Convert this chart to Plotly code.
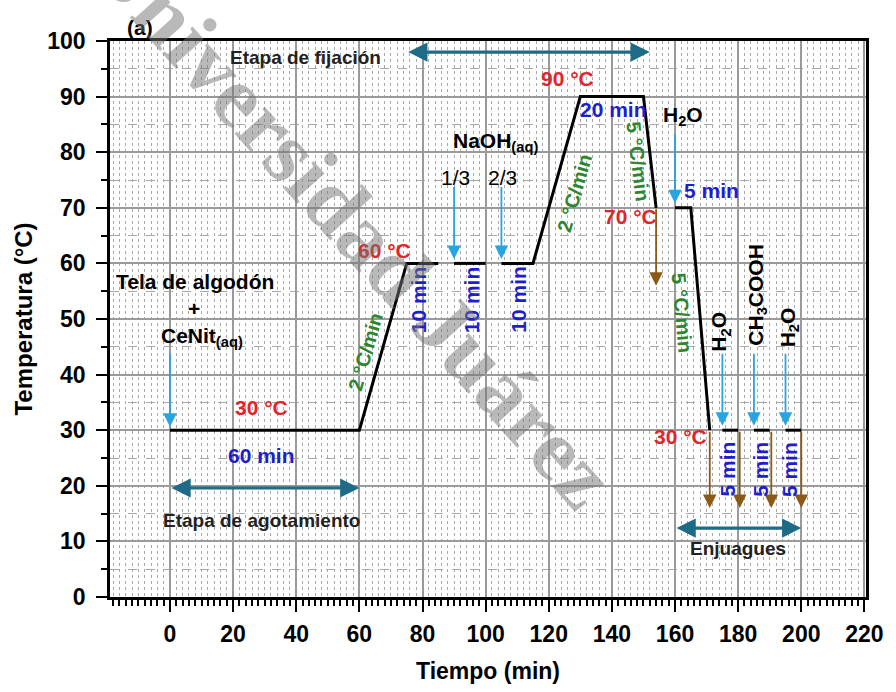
import plotly.graph_objects as go

# Temperature profile of the dyeing process (time in min, temperature in °C)
profile_t = [0, 60, 75, 85, None, 90, 100, None, 105, 115, 130, 150, 154, None,
             160, 165, 171, None, 175, 180, None, 185, 190, None, 195, 200]
profile_T = [30, 30, 60, 60, None, 60, 60, None, 60, 60, 90, 90, 70, None,
             70, 70, 30, None, 30, 30, None, 30, 30, None, 30, 30]

# Reagent additions (blue arrows): time, start temperature, end temperature
add_t = [0, 90, 105, 160, 175, 185, 195]
add_from = [44, 74, 74, 83.5, 44, 44, 44]
add_to = [30.6, 60.8, 60.8, 70.8, 30.8, 30.8, 30.8]

# Bath drained (brown arrows)
drain_t = [154, 171, 180.5, 190.5, 200]
drain_from = [70, 30, 30, 30, 30]
drain_to = [56, 16, 16, 16, 16]

# Process stages (double arrows): start, end, level
stage_start = [75, 0, 160]
stage_end = [152, 60, 200]
stage_level = [98, 19.6, 12.4]

x_ticks = list(range(0, 221, 20))
y_ticks = list(range(0, 101, 10))

FONT = "Liberation Sans, Arial, sans-serif"
RED = "#e0262b"
BLUE = "#1e1ecf"
GREEN = "#2e862e"
LIGHTBLUE = "#27a4e2"
BROWN = "#8c5a17"
TEAL = "#1d6b87"

fig = go.Figure()
fig.add_trace(go.Scatter(x=profile_t, y=profile_T, mode="lines",
                         line=dict(color="black", width=3),
                         connectgaps=False, hoverinfo="skip", showlegend=False))

ann = []

for t, a, b in zip(add_t, add_from, add_to):
    ann.append(dict(x=t, y=b, ax=t, ay=a, xref="x", yref="y", axref="x", ayref="y",
                    text="", showarrow=True, arrowhead=2, arrowsize=1.5,
                    arrowwidth=1.8, arrowcolor=LIGHTBLUE))
for t, a, b in zip(drain_t, drain_from, drain_to):
    ann.append(dict(x=t, y=b, ax=t, ay=a, xref="x", yref="y", axref="x", ayref="y",
                    text="", showarrow=True, arrowhead=2, arrowsize=1.5,
                    arrowwidth=1.8, arrowcolor=BROWN))
for s, e, lv in zip(stage_start, stage_end, stage_level):
    ann.append(dict(x=e, y=lv, ax=s, ay=lv, xref="x", yref="y", axref="x", ayref="y",
                    text="", showarrow=True, arrowhead=2, startarrowhead=2,
                    arrowside="end+start", arrowsize=1.2, startarrowsize=1.2,
                    arrowwidth=3.2, arrowcolor=TEAL))


def label(x, y, text, color="black", size=21, angle=0, bold=True):
    ann.append(dict(x=x, y=y, xref="x", yref="y", text=text, showarrow=False,
                    textangle=angle, xanchor="center", yanchor="middle",
                    font=dict(family=FONT, size=size, color=color,
                              weight="bold" if bold else "normal")))


# Stage names
label(42.9, 97.0, "Etapa de fijación", "#222222", 19)
label(29.0, 13.8, "Etapa de agotamiento", "#222222", 19)
label(179.8, 8.8, "Enjuagues", "#222222", 19)

# Reagents
label(8.0, 56.7, "Tela de algodón")
label(7.7, 51.9, "+")
label(10.0, 46.7, "CeNit<sub>(aq)</sub>")
label(103.0, 81.9, "NaOH<sub>(aq)</sub>")
label(90.3, 75.4, "1/3", bold=False)
label(105.3, 75.4, "2/3", bold=False)
label(162.6, 86.5, "H<sub>2</sub>O")
label(174.4, 47.8, "H<sub>2</sub>O", angle=-90)
label(185.7, 54.4, "CH<sub>3</sub>COOH", angle=-90)
label(196.1, 48.5, "H<sub>2</sub>O", angle=-90)

# Temperatures
label(29.0, 34.1, "30 °C", RED)
label(68.0, 62.3, "60 °C", RED)
label(125.8, 93.2, "90 °C", RED)
label(145.9, 68.4, "70 °C", RED)
label(161.6, 28.9, "30 °C", RED)

# Durations
label(29.0, 25.5, "60 min", BLUE)
label(78.8, 53.5, "10 min", BLUE, angle=-90)
label(95.6, 53.5, "10 min", BLUE, angle=-90)
label(110.3, 53.5, "10 min", BLUE, angle=-90)
label(140.6, 87.6, "20 min", BLUE)
label(171.4, 73.2, "5 min", BLUE)
label(176.6, 23.0, "5 min", BLUE, angle=-90)
label(186.8, 23.0, "5 min", BLUE, angle=-90)
label(196.1, 23.0, "5 min", BLUE, angle=-90)

# Heating / cooling rates
label(62.0, 44.0, "2 °C/min", GREEN, 20, -74)
label(128.1, 72.7, "2 °C/min", GREEN, 20, -74)
label(148.4, 78.3, "5 °C/min", GREEN, 20, 83)
label(162.1, 51.2, "5 °C/min", GREEN, 20, 85)

# Panel tag
ann.append(dict(x=0.04, y=1.0, xref="paper", yref="paper", yanchor="bottom",
                xanchor="center", text="(a)", showarrow=False,
                font=dict(family=FONT, size=21, color="black", weight="bold")))

# Institutional watermark
ann.append(dict(x=58, y=67.5, xref="x", yref="y", text="Universidad Juárez",
                showarrow=False, textangle=48,
                font=dict(family="Liberation Serif, Times New Roman, serif",
                          size=88, color="rgba(115,115,115,0.5)",
                          weight="bold")))

axis_common = dict(
    showline=True, linecolor="black", linewidth=2.5, mirror=True,
    ticks="outside", tickcolor="black", tickwidth=2,
    showgrid=True, gridcolor="#9a9a9a", gridwidth=1.5,
    zeroline=False,
    tickfont=dict(family=FONT, size=23, color="black", weight="bold"),
)

fig.update_layout(
    width=896, height=692,
    margin=dict(l=110, r=24, t=41, b=94),
    paper_bgcolor="white", plot_bgcolor="white",
    showlegend=False,
    annotations=ann,
    xaxis=dict(axis_common, range=[-19, 220.5], tickvals=x_ticks, ticklen=12,
               ticklabelstandoff=3,
               minor=dict(dtick=2, tick0=0, ticks="outside", ticklen=6,
                          tickwidth=1.5, tickcolor="black", showgrid=True,
                          gridcolor="#a8a8a8", gridwidth=1, griddash="dot"),
               title=dict(text="Tiempo (min)", standoff=17,
                          font=dict(family=FONT, size=23, color="black",
                                    weight="bold"))),
    yaxis=dict(axis_common, range=[0, 100], tickvals=y_ticks, ticklen=11,
               ticklabelstandoff=6,
               minor=dict(dtick=5, tick0=0, ticks="outside", ticklen=6,
                          tickwidth=2, tickcolor="black", showgrid=True,
                          gridcolor="#a8a8a8", gridwidth=1, griddash="dash"),
               title=dict(text="Temperatura (°C)", standoff=8,
                          font=dict(family=FONT, size=24, color="black",
                                    weight="bold"))),
)

fig.write_html("out.html")
